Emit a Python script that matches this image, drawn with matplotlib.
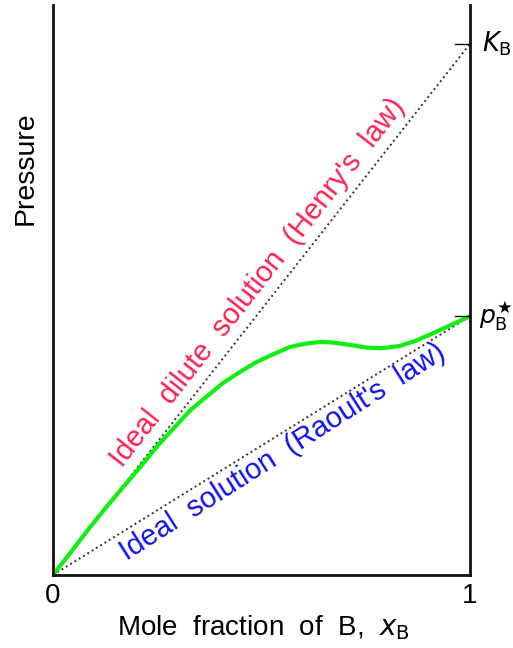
import numpy as np
import matplotlib
matplotlib.use("Agg")
import matplotlib.pyplot as plt

plt.rcParams['font.family'] = ['Liberation Sans', 'DejaVu Sans']

# pressure values (fraction of axis height)
K_B = 0.932
P_B = 0.454

x_real = [0.0, 0.045, 0.089, 0.13, 0.168, 0.21, 0.249, 0.29, 0.329, 0.37,
          0.408, 0.45, 0.489, 0.53, 0.568, 0.605, 0.640, 0.671, 0.71, 0.753,
          0.79, 0.832, 0.87, 0.911, 0.955, 1.0]
p_real = [0.0, 0.042, 0.084, 0.121, 0.154, 0.190, 0.225, 0.258, 0.289, 0.314,
          0.337, 0.357, 0.374, 0.388, 0.400, 0.406, 0.409, 0.408, 0.404, 0.399,
          0.398, 0.402, 0.411, 0.424, 0.439, 0.454]

fig = plt.figure(figsize=(5.13, 6.48), dpi=100)
ax = fig.add_axes([0.1033, 0.1127, 0.8127, 0.8793])

# Henry and Raoult lines
ax.plot([0, 1], [0, K_B], color="#333", linestyle=(0, (1, 1.6)), linewidth=1.4)
ax.plot([0, 1], [0, P_B], color="#333", linestyle=(0, (1, 1.6)), linewidth=1.4)
ax.plot(x_real, p_real, color="#11EE11", linewidth=3, solid_capstyle="round",
        solid_joinstyle="round")

ax.set_xlim(0, 1)
ax.set_ylim(0, 1)

for s in ["left", "right", "bottom"]:
    ax.spines[s].set_linewidth(2)
    ax.spines[s].set_color("#111")
ax.spines["top"].set_visible(False)

ax.set_xticks([0, 1])
ax.set_xticklabels(["0", "1"], fontsize=20)
ax.tick_params(axis="x", length=0, pad=6)
ax.set_yticks([])

# right side tick marks
for p in (K_B, P_B):
    ax.plot([0.965, 1.0], [p, p], color="#111", linewidth=1, clip_on=False)

ax.text(1.028, K_B, r"$K_{\rm B}$", fontsize=18.5, ha="left", va="center",
        clip_on=False)
ax.text(1.022, P_B, r"$p_{\rm B}^{\bigstar}$", fontsize=18, ha="left", va="center",
        clip_on=False)

ax.text(0.492, 0.514, "Ideal  dilute  solution  (Henry's  law)", color="#FF2050",
        fontsize=21, rotation=51.9, rotation_mode="anchor", ha="center", va="center")
ax.text(0.552, 0.216, "Ideal  solution  (Raoult's  law)", color="#1111EE",
        fontsize=21, rotation=32.5, rotation_mode="anchor", ha="center", va="center")

fig.text(0.5135, 0.031, r"Mole  fraction  of  B,  $x_{\rm B}$", fontsize=20,
         ha="center", va="center")
fig.text(0.049, 0.741, "Pressure", fontsize=20.5, rotation=90, ha="center", va="center")

fig.savefig("out.png", dpi=100, facecolor="white")
